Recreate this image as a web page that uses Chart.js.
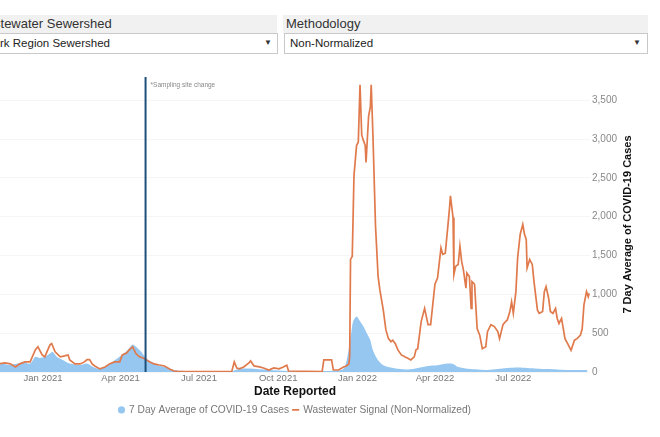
<!DOCTYPE html>
<html>
<head>
<meta charset="utf-8">
<script src="https://cdn.jsdelivr.net/npm/chart.js@4.4.1/dist/chart.umd.min.js"></script>
<style>
  body { margin: 0; width: 660px; height: 437px; overflow: hidden; background: #fff; font-family: "Liberation Sans", Arial, sans-serif; position: relative; }
  .band { position: absolute; top: 15px; height: 18px; background: #f1f1f1; overflow: hidden; }
  .band span { position: absolute; top: 1px; font-size: 13px; color: #333; white-space: nowrap; }
  .select { position: absolute; top: 33px; height: 19px; border: 1px solid #c9c9c9; background: #fff; overflow: hidden; }
  .select span { position: absolute; top: 3px; font-size: 11.5px; color: #222; white-space: nowrap; }
  .select b { position: absolute; top: 4px; font-size: 8px; color: #333; font-weight: normal; }
  #wrap { position: absolute; left: 0; top: 60px; width: 660px; height: 377px; }
</style>
</head>
<body>
<div class="band" style="left:0;width:277px"><span style="left:-25px">Wastewater Sewershed</span></div>
<div class="band" style="left:283px;width:365px"><span style="left:3px">Methodology</span></div>
<div class="select" style="left:-2px;width:278px"><span style="left:-12px">York Region Sewershed</span><b style="left:265px">&#9660;</b></div>
<div class="select" style="left:284px;width:362px"><span style="left:5px">Non-Normalized</span><b style="left:348px">&#9660;</b></div>
<div id="wrap"><canvas id="chart"></canvas></div>
<script>
// 7 day average of cases (blue area)
const caseDates = ['2020-11-12','2020-11-24','2020-12-02','2020-12-09','2020-12-17','2020-12-23','2020-12-28',
  '2021-01-03','2021-01-09','2021-01-12','2021-01-17','2021-01-24','2021-02-01','2021-02-13','2021-02-21',
  '2021-02-28','2021-03-08','2021-03-17','2021-03-25','2021-04-02','2021-04-09','2021-04-15','2021-04-19',
  '2021-04-25','2021-05-01','2021-05-07','2021-05-14','2021-05-22','2021-06-02','2021-06-14','2021-07-01',
  '2021-08-05','2021-08-17','2021-08-28','2021-09-20','2021-10-13','2021-11-17','2021-12-10','2021-12-16',
  '2021-12-19','2021-12-22','2021-12-25','2021-12-27','2021-12-31','2022-01-03','2022-01-08','2022-01-11',
  '2022-01-16','2022-01-19','2022-01-25','2022-01-31','2022-02-06','2022-02-17','2022-03-01','2022-03-12',
  '2022-03-24','2022-04-04','2022-04-16','2022-04-22','2022-04-28','2022-05-09','2022-05-21','2022-06-01',
  '2022-06-13','2022-06-24','2022-07-06','2022-07-17','2022-07-29','2022-08-09','2022-08-21','2022-09-02',
  '2022-09-13','2022-09-25'];
const caseValues = [108,91,108,130,108,195,181,
  195,237,260,195,155,108,91,108,
  65,43,87,150,216,281,354,324,
  260,172,130,87,65,26,13,6,
  6,39,45,26,13,13,20,43,
  130,300,520,650,715,670,585,520,
  410,280,150,87,65,43,33,52,
  78,87,108,104,65,43,33,26,
  39,52,58,52,43,39,33,26,
  26,26];

// wastewater signal (orange line)
const wwDates = ['2020-11-12','2020-11-18','2020-11-24','2020-11-30','2020-12-05','2020-12-11','2020-12-17',
  '2020-12-23','2020-12-26','2020-12-31','2021-01-03','2021-01-09','2021-01-11','2021-01-15','2021-01-21',
  '2021-01-26','2021-01-30','2021-02-01','2021-02-07','2021-02-13','2021-02-18','2021-02-21','2021-02-24',
  '2021-02-27','2021-03-02','2021-03-08','2021-03-14','2021-03-19','2021-03-25','2021-03-31','2021-04-03',
  '2021-04-08','2021-04-11','2021-04-15','2021-04-19','2021-04-23','2021-04-29','2021-05-05','2021-05-10',
  '2021-05-16','2021-05-22','2021-05-28','2021-06-02','2021-06-08','2021-08-08','2021-08-11','2021-08-14',
  '2021-08-17','2021-08-22','2021-08-28','2021-08-30','2021-09-03','2021-09-09','2021-09-14','2021-09-20',
  '2021-09-26','2021-10-02','2021-10-07','2021-10-11','2021-10-13','2021-11-21','2021-11-23','2021-12-02',
  '2021-12-04','2021-12-10','2021-12-16','2021-12-19','2021-12-22','2021-12-23','2021-12-24','2021-12-26',
  '2021-12-28','2021-12-31','2022-01-02','2022-01-04','2022-01-06','2022-01-08','2022-01-10','2022-01-11',
  '2022-01-14','2022-01-16','2022-01-17','2022-01-19','2022-01-22','2022-01-25','2022-01-27','2022-01-31',
  '2022-02-03','2022-02-06','2022-02-09','2022-02-11','2022-02-14','2022-02-17','2022-02-21','2022-02-25',
  '2022-03-01','2022-03-04','2022-03-08','2022-03-10','2022-03-12','2022-03-16','2022-03-20','2022-03-24',
  '2022-03-27','2022-04-01','2022-04-04','2022-04-08','2022-04-10','2022-04-13','2022-04-16','2022-04-18',
  '2022-04-19','2022-04-22','2022-04-23','2022-04-25','2022-04-28','2022-04-30','2022-05-02','2022-05-04',
  '2022-05-07','2022-05-08','2022-05-11','2022-05-13','2022-05-14','2022-05-17','2022-05-20','2022-05-23',
  '2022-05-26','2022-05-30','2022-06-01','2022-06-05','2022-06-09','2022-06-13','2022-06-15','2022-06-19',
  '2022-06-22','2022-06-24','2022-06-27','2022-06-29','2022-07-01','2022-07-04','2022-07-06','2022-07-09',
  '2022-07-12','2022-07-14','2022-07-16','2022-07-17','2022-07-20','2022-07-23','2022-07-25','2022-07-29',
  '2022-07-31','2022-08-04','2022-08-06','2022-08-08','2022-08-11','2022-08-13','2022-08-16','2022-08-19',
  '2022-08-21','2022-08-23','2022-08-26','2022-08-28','2022-08-30','2022-09-03','2022-09-06','2022-09-10',
  '2022-09-13','2022-09-17','2022-09-19','2022-09-21','2022-09-24','2022-09-26','2022-09-27'];
const wwValues = [108,117,105,65,105,130,130,
  285,325,220,195,350,367,260,195,
  207,220,155,104,104,130,160,160,
  104,78,40,65,104,130,130,220,
  245,285,325,235,195,170,130,104,
  90,78,40,13,5,5,130,52,
  40,65,117,143,78,65,52,26,
  52,40,65,87,13,5,155,155,
  26,26,65,78,104,195,1450,1490,
  2530,2920,2960,3700,3050,2980,2920,2700,
  3300,3415,3700,3050,1880,1230,1060,800,
  545,430,390,410,365,285,220,195,
  175,155,195,285,300,650,820,610,
  610,1130,1210,1600,1515,1530,1880,2120,
  2270,1990,1255,1360,1385,1620,1425,1320,
  1080,1275,1230,820,1165,1130,560,475,
  300,325,520,610,585,520,430,610,
  650,670,780,905,755,1035,1470,1775,
  1900,1775,1705,1340,1450,1385,1165,800,
  755,780,1035,1100,950,780,755,820,
  690,625,690,560,430,345,280,410,
  430,475,560,865,1035,970,1015];

const tickDates = ['2021-01-01','2021-04-01','2021-07-01','2021-10-01','2022-01-01','2022-04-01','2022-07-01'];
const tickLabels = ['Jan 2021','Apr 2021','Jul 2021','Oct 2021','Jan 2022','Apr 2022','Jul 2022'];
const yTicks = [0, 500, 1000, 1500, 2000, 2500, 3000, 3500];
const siteChangeDate = '2021-04-30';
const yTitle = '7 Day Average of COVID-19 Cases';

// days since 2021-01-01
function day(s) {
    return (Date.UTC(+s.slice(0, 4), +s.slice(5, 7) - 1, +s.slice(8, 10)) - Date.UTC(2021, 0, 1)) / 86400000;
}

const font = "'Liberation Sans', Arial, sans-serif";

// vertical marker for the sampling site change + right axis title read bottom-to-top
const extras = {
    id: 'extras',
    afterDatasetsDraw(chart) {
        const ctx = chart.ctx;
        const area = chart.chartArea;
        const x = chart.scales.x.getPixelForValue(day(siteChangeDate));
        ctx.save();
        ctx.strokeStyle = '#1d4f7c';
        ctx.lineWidth = 2;
        ctx.beginPath();
        ctx.moveTo(x, area.top);
        ctx.lineTo(x, area.bottom);
        ctx.stroke();
        ctx.fillStyle = '#888';
        ctx.font = '6.5px ' + font;
        ctx.textBaseline = 'middle';
        ctx.fillText('*Sampling site change', x + 5, area.top + 8);

        const yScale = chart.scales.y;
        ctx.translate(yScale.right + 9, (area.top + area.bottom) / 2);
        ctx.rotate(-Math.PI / 2);
        ctx.fillStyle = '#111';
        ctx.font = 'bold 11px ' + font;
        ctx.textAlign = 'center';
        ctx.fillText(yTitle, 0, 0);
        ctx.restore();
    }
};

new Chart(document.getElementById('chart'), {
    type: 'line',
    data: {
        datasets: [
            {
                label: '7 Day Average of COVID-19 Cases',
                data: caseDates.map((d, i) => ({ x: day(d), y: caseValues[i] })),
                yAxisID: 'y',
                backgroundColor: '#95c7f1',
                borderColor: '#95c7f1',
                borderWidth: 0,
                fill: 'origin',
                tension: 0.3,
                pointRadius: 0,
                pointStyle: 'circle',
                order: 1
            },
            {
                label: 'Wastewater Signal (Non-Normalized)',
                data: wwDates.map((d, i) => ({ x: day(d), y: wwValues[i] })),
                yAxisID: 'y1',
                borderColor: '#e07a4c',
                backgroundColor: '#e07a4c',
                borderWidth: 1.7,
                fill: false,
                tension: 0,
                pointRadius: 0,
                pointStyle: 'line',
                order: 0
            }
        ]
    },
    options: {
        responsive: true,
        maintainAspectRatio: false,
        animation: false,
        layout: { padding: { top: 17, right: 41, bottom: 12, left: 0 } },
        plugins: {
            tooltip: { enabled: false },
            legend: {
                position: 'bottom',
                fullSize: false,
                labels: {
                    usePointStyle: true,
                    boxWidth: 5,
                    boxHeight: 5,
                    padding: 4,
                    color: '#777',
                    font: { family: font, size: 10.2 },
                    sort: (a, b) => a.datasetIndex - b.datasetIndex
                }
            }
        },
        scales: {
            x: {
                type: 'linear',
                min: day('2020-11-12'),
                max: day('2022-09-28'),
                grid: { display: false, drawTicks: false },
                border: { display: false },
                afterBuildTicks: scale => { scale.ticks = tickDates.map(d => ({ value: day(d) })); },
                ticks: {
                    padding: 1,
                    maxRotation: 0,
                    autoSkip: false,
                    color: '#777',
                    font: { family: font, size: 9.5 },
                    callback: (v, i) => tickLabels[i]
                },
                title: {
                    display: true,
                    text: 'Date Reported',
                    color: '#111',
                    font: { family: font, size: 12, weight: 'bold', lineHeight: 1 },
                    padding: { top: 0, bottom: 3.4 }
                }
            },
            y: {
                position: 'right',
                min: 0,
                max: 3800,
                grid: { color: '#f5f5f5', drawTicks: false },
                border: { display: false },
                afterBuildTicks: scale => { scale.ticks = yTicks.map(v => ({ value: v })); },
                ticks: {
                    padding: 2,
                    color: '#888',
                    font: { family: font, size: 10 },
                    callback: v => v.toLocaleString('en-US')
                }
            },
            y1: {
                position: 'left',
                display: false,
                min: 0,
                max: 3800
            }
        }
    },
    plugins: [extras]
});
</script>
</body>
</html>
